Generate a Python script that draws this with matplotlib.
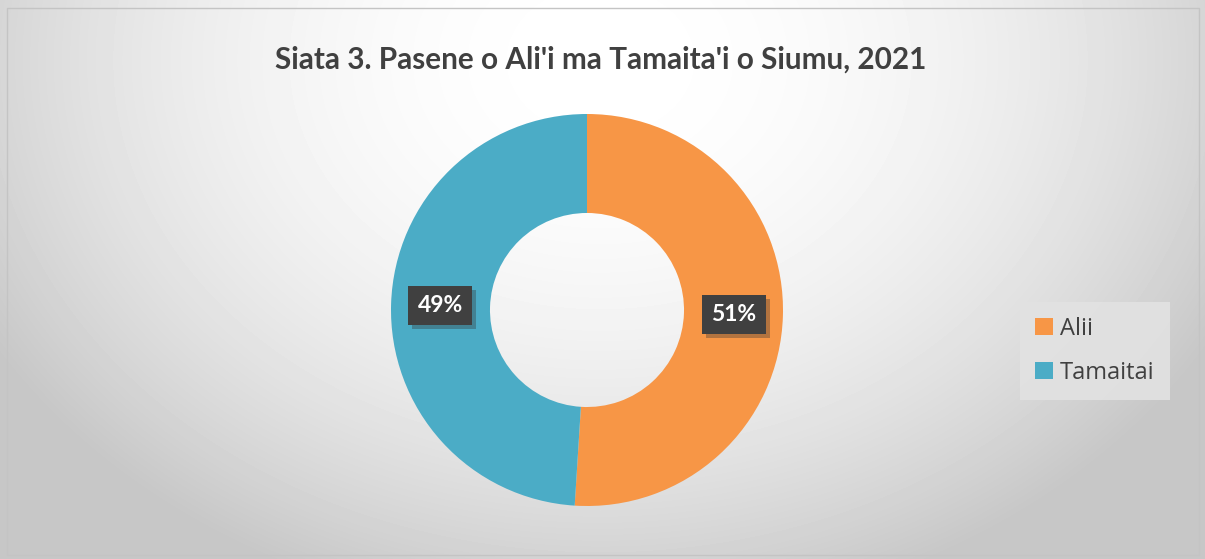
import numpy as np
import matplotlib
matplotlib.use('Agg')
import matplotlib.pyplot as plt
import matplotlib.patheffects as pe
from matplotlib.patches import Rectangle

# ── Data ─────────────────────────────────────────────────────────────────────
categories = ['Alii', 'Tamaitai']
shares     = [51, 49]
colors     = ['#f79646', '#4bacc6']
title      = "Siata 3. Pasene o Ali'i ma Tamaita'i o Siumu, 2021"

W, H = 1205, 559
fig = plt.figure(figsize=(W / 100, H / 100), dpi=100)

# ── Background: soft radial gradient ─────────────────────────────────────────
bg = fig.add_axes([0, 0, 1, 1])
yy, xx = np.mgrid[0:H, 0:W]
d2 = ((xx - 600) / 600.0) ** 2 + ((yy - 60) / 480.0) ** 2
shade = np.clip(1.0 - 0.16 * d2, 0.78, 1.0)
bg.imshow(shade, cmap='gray', vmin=0, vmax=1, extent=[0, W, H, 0], aspect='auto')
bg.add_patch(Rectangle((7, 8), W - 13, H - 12, fill=False, ec='#c4c4c4', lw=1))
bg.set_xlim(0, W)
bg.set_ylim(H, 0)
bg.axis('off')

# ── Doughnut ─────────────────────────────────────────────────────────────────
cx, cy, r = 587, 310, 196
ax = fig.add_axes([(cx - r) / W, (H - cy - r) / H, 2 * r / W, 2 * r / H])
wedges, _ = ax.pie(shares, colors=colors, startangle=90, counterclock=False,
                   radius=1.0, wedgeprops=dict(width=0.505, edgecolor='none'))
ax.set_xlim(-1, 1)
ax.set_ylim(-1, 1)
ax.set_aspect('equal')
ax.axis('off')

# percentage labels in dark boxes
start = 90.0
for w, v in zip(wedges, shares):
    mid = np.deg2rad(start - v / 100 * 360 / 2)
    start -= v / 100 * 360
    t = ax.text(0.75 * np.cos(mid), 0.75 * np.sin(mid), f'{v}%',
                ha='center', va='center', color='white', fontsize=16.5,
                fontweight='bold', family='Lato',
                bbox=dict(boxstyle='square,pad=0.4', fc='#404040', ec='none'))
    t.get_bbox_patch().set_path_effects(
        [pe.SimplePatchShadow(offset=(3, -3), shadow_rgbFace='#333333', alpha=0.35),
         pe.Normal()])

# ── Title ────────────────────────────────────────────────────────────────────
fig.text(601 / W, 1 - 60 / H, title, ha='center', va='center',
         fontsize=21.4, fontweight='bold', color='#404040', family='Lato')

# ── Legend ───────────────────────────────────────────────────────────────────
leg = fig.legend(wedges, categories, loc='center', bbox_to_anchor=(1095 / W, 1 - 351 / H),
                 frameon=True, fancybox=False, handlelength=0.75,
                 handleheight=0.75, handletextpad=0.3, labelspacing=0.85,
                 borderpad=0.65, prop={'family': 'Open Sans', 'size': 17})
leg.get_frame().set_facecolor('#e2e2e2')
leg.get_frame().set_edgecolor('none')
leg.get_frame().set_alpha(0.9)
for txt in leg.get_texts():
    txt.set_color('#404040')

fig.savefig('out.png', dpi=100)
